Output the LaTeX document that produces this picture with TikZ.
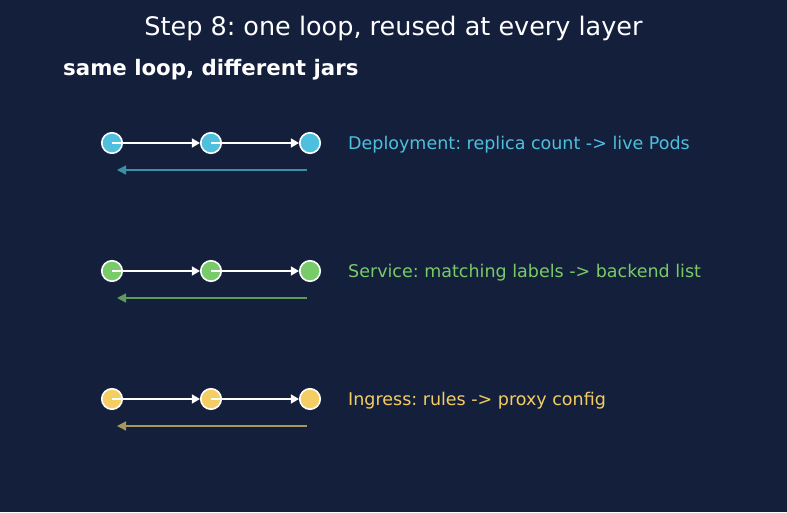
\documentclass[tikz,border=0pt]{standalone}
\usepackage{fontspec}
\setmainfont{DejaVu Sans}
\frenchspacing
\usetikzlibrary{arrows.meta}
\definecolor{bg}{HTML}{141F3C}
\definecolor{cblue}{HTML}{4EC0DE}
\definecolor{cbluedim}{HTML}{3A91A6}
\definecolor{cgreen}{HTML}{78CB68}
\definecolor{cgreendim}{HTML}{5E9A5C}
\definecolor{cyellow}{HTML}{F4CE62}
\definecolor{cyellowdim}{HTML}{A8975A}
\tikzset{
  x=1pt,y=-1pt,
  dot/.style={circle,draw=white,line width=1.6pt,minimum size=20.5pt,inner sep=0pt},
  fwd/.style={draw=white,line width=1.4pt,-{Triangle[length=8pt,width=9pt]}},
  back/.style={line width=1.4pt,-{Triangle[length=9pt,width=9pt]}},
  lbl/.style={anchor=west,font=\fontsize{17.5}{20}\selectfont,inner sep=0pt}
}
\begin{document}
\begin{tikzpicture}
\fill[bg] (0,0) rectangle (787,512);
\useasboundingbox (0,0) rectangle (787,512);
\node[font=\fontsize{25.5}{30}\selectfont,text=white] (title) at (393.5,28) {Step 8: one loop, reused at every layer};
\node[font=\bfseries\fontsize{21.3}{25}\selectfont,text=white,anchor=west,inner sep=0pt] (sub) at (63,70) {same loop, different jars};
% rows
\foreach \y/\c/\d/\n/\t in {143/cblue/cbluedim/a/{Deployment: replica count -> live Pods},
                              271/cgreen/cgreendim/b/{Service: matching labels -> backend list},
                              399/cyellow/cyellowdim/c/{Ingress: rules -> proxy config}}{
  \node[dot,fill=\c] (\n1) at (112,\y) {};
  \node[dot,fill=\c] (\n2) at (211,\y) {};
  \node[dot,fill=\c] (\n3) at (310,\y) {};
  \draw[fwd] (\n1.center) -- (\n2.west);
  \draw[fwd] (\n2.center) -- (\n3.west);
  \coordinate (\n s) at (307,\y+27);
  \coordinate (\n e) at (117,\y+27);
  \draw[back,draw=\d,fill=\d] (\n s) -- (\n e);
  \node[lbl,text=\c] (\n l) at (348,\y+2) {\t};
}
\end{tikzpicture}
\end{document}
